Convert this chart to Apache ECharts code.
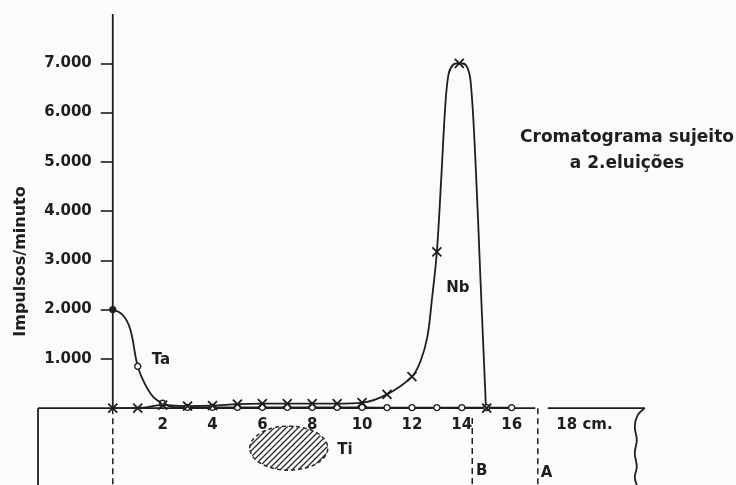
<!DOCTYPE html>
<html><head><meta charset="utf-8">
<script src="https://cdn.jsdelivr.net/npm/echarts@6/dist/echarts.min.js"></script>
<style>html,body{margin:0;padding:0;background:#fbfbf9}#c{width:736px;height:485px}</style>
</head><body><div id="c"></div>
<script>
// ---- data ----
const xTickValues = [2, 4, 6, 8, 10, 12, 14, 16, 18];
const yTickValues = [1000, 2000, 3000, 4000, 5000, 6000, 7000];
const titleLines = ['Cromatograma sujeito', 'a 2.eluições'];
const yAxisName = 'Impulsos/minuto';

// Nb (crosses)
const nbMarkX = [0, 1, 2, 3, 4, 5, 6, 7, 8, 9, 10, 11, 12, 13, 13.9, 15];
const nbMarkY = [0, 0, 60, 40, 50, 80, 90, 90, 90, 90, 110, 280, 640, 3170, 7000, 0];
const nbCurveX = [0, 1, 2, 3, 4, 5, 6, 7, 8, 9, 10, 11, 12, 12.35, 12.62, 12.8, 13, 13.18, 13.34, 13.47, 13.65, 13.9, 14.17, 14.35, 14.55, 14.75, 14.97];
const nbCurveY = [0, 0, 60, 40, 50, 80, 90, 90, 90, 90, 110, 280, 640, 960, 1450, 2200, 3170, 4700, 6150, 6780, 6970, 7000, 6960, 6650, 5000, 2600, 0];

// Ta (circles)
const taMarkX = [0, 1, 2, 3, 4, 5, 6, 7, 8, 9, 10, 11, 12, 13, 14, 15, 16];
const taMarkY = [2000, 850, 100, 15, 15, 15, 15, 15, 15, 15, 15, 10, 10, 10, 10, 10, 10];
const taCurveX = [0, 0.4, 0.7, 1, 1.3, 1.62, 2, 2.55, 3, 4, 5, 6, 7, 8, 9, 10, 11, 12, 13, 14, 15, 16];
const taCurveY = [2000, 1890, 1600, 850, 480, 230, 100, 15, 15, 15, 15, 15, 15, 15, 15, 15, 10, 10, 10, 10, 10, 10];

// paper strip (cm along x, counts-equivalent below zero)
const xMin = -3, xMax = 25, yMin = -1560, yMax = 8000;
const stripLeft = -3, stripBottom = -1560;
const stripBreak = [16.95, 17.45], stripRight = 21.34;
const lineB = 14.42, lineBTop = -200, lineA = 17.05;
const edgeX = [21.34, 21.06, 20.94, 21.02, 20.94, 21.02, 20.94, 21.02];
const edgeY = [0, -138, -381, -645, -909, -1193, -1396, -1560];
const tiSpot = [7.06, -812];

// annotations
const annoText = ['Ta', 'Nb', 'Ti', 'B', 'A'];
const annoX = [1.93, 13.84, 9.31, 14.8, 17.4];
const annoY = [981, 2440, -850, -1274, -1315];

// ---- chart ----
const ink = '#1e1e1e', bg = '#fbfbf9';
const font = 'DejaVu Sans';
const W = 736, H = 485;
const grid = { left: 38, right: 0, top: 14, bottom: 0 };
const gw = W - grid.left - grid.right, gh = H - grid.top - grid.bottom;
// shift axes so they sit on the data zero lines
const yAxisOffset = -((0 - xMin) / (xMax - xMin)) * gw;
const xAxisOffset = -((0 - yMin) / (yMax - yMin)) * gh;
const zip = (xs, ys) => xs.map((x, i) => [x, ys[i]]);

const pat = document.createElement('canvas');
pat.width = 6; pat.height = 6;
const pc = pat.getContext('2d');
pc.fillStyle = bg; pc.fillRect(0, 0, 6, 6);
pc.strokeStyle = '#2a2a2a'; pc.lineWidth = 1.3;
pc.beginPath();
pc.moveTo(0, 6); pc.lineTo(6, 0);
pc.moveTo(-3, 3); pc.lineTo(3, -3);
pc.moveTo(3, 9); pc.lineTo(9, 3);
pc.stroke();

const LW = 1.8;
const plain = (data, extra) => Object.assign({
  type: 'line', data, showSymbol: false, symbol: 'none', silent: true,
  lineStyle: { color: ink, width: LW }, z: 2
}, extra || {});
const dashed = { color: ink, width: 1.5, type: [6, 4] };

const chart = echarts.init(document.getElementById('c'), null, { renderer: 'canvas' });
chart.setOption({
  backgroundColor: bg,
  animation: false,
  textStyle: { fontFamily: font, color: ink },
  title: {
    text: titleLines.join('\n'),
    left: 622, top: 120, textAlign: 'center',
    textStyle: { fontFamily: font, fontSize: 17, fontWeight: 'bold', color: ink, lineHeight: 26 }
  },
  grid: Object.assign({ outerBoundsMode: 'none' }, grid),
  xAxis: {
    type: 'value', min: xMin, max: xMax, offset: xAxisOffset,
    axisLine: { show: false, onZero: false },
    axisTick: { show: false },
    splitLine: { show: false },
    axisLabel: {
      customValues: xTickValues, margin: 9,
      fontFamily: font, fontSize: 15, fontWeight: 'bold', color: ink,
      formatter: v => v === 18 ? '{cm|18 cm.}' : String(v),
      rich: { cm: { fontFamily: font, fontSize: 15, fontWeight: 'bold', color: ink, padding: [0, 0, 0, 46] } }
    }
  },
  yAxis: {
    type: 'value', min: yMin, max: yMax, offset: yAxisOffset,
    axisLine: { show: false, onZero: false },
    axisTick: { show: true, customValues: yTickValues, length: 12, lineStyle: { color: ink, width: 1.6 } },
    splitLine: { show: false },
    axisLabel: {
      customValues: yTickValues, margin: 21,
      fontFamily: font, fontSize: 15, fontWeight: 'bold', color: ink,
      formatter: v => (v / 1000) + '.000'
    },
    name: yAxisName, nameLocation: 'middle', nameGap: 84, nameRotate: 90,
    nameTextStyle: { fontFamily: font, fontSize: 16, fontWeight: 'bold', color: ink, padding: [0, 24, 0, 0] }
  },
  series: [
    plain([[0, 0], [0, yMax]]),
    plain([[0, 0], [0, stripBottom]], { lineStyle: dashed }),
    plain([[stripLeft, 0], [stripBreak[0], 0]]),
    plain([[stripLeft, 0], [stripLeft, stripBottom]]),
    plain([[stripBreak[1], 0], [stripRight, 0]]),
    plain(zip(edgeX, edgeY), { smooth: 0.4 }),
    plain([[lineB, lineBTop], [lineB, stripBottom]], { lineStyle: dashed }),
    plain([[lineA, 0], [lineA, stripBottom]], { lineStyle: dashed }),
    {
      type: 'custom', silent: true, z: 1, data: [tiSpot],
      renderItem: (params, api) => {
        const c = api.coord([api.value(0), api.value(1)]);
        return {
          type: 'ellipse',
          shape: { cx: c[0], cy: c[1], rx: 39, ry: 22 },
          style: { fill: { image: pat, repeat: 'repeat' }, stroke: '#2a2a2a', lineWidth: 1.5, lineDash: [4, 3] }
        };
      }
    },
    plain(zip(taCurveX, taCurveY), { smooth: 0.4, z: 3 }),
    plain(zip(nbCurveX, nbCurveY), { smooth: 0.35, z: 3 }),
    {
      type: 'scatter', data: zip(taMarkX, taMarkY), symbol: 'circle', symbolSize: 6, silent: true, z: 5,
      itemStyle: { color: p => p.dataIndex === 0 ? ink : bg, borderColor: ink, borderWidth: 1.4, opacity: 1 }
    },
    {
      type: 'scatter', data: zip(nbMarkX, nbMarkY), symbol: 'path://M0,0L10,10M0,10L10,0', symbolSize: 9, silent: true, z: 6,
      itemStyle: { color: 'none', borderColor: ink, borderWidth: 1.8, opacity: 1 }
    },
    {
      type: 'custom', silent: true, z: 7,
      data: annoText.map((t, i) => [annoX[i], annoY[i], i]),
      renderItem: (params, api) => {
        const c = api.coord([api.value(0), api.value(1)]);
        return {
          type: 'text', x: c[0], y: c[1],
          style: { text: annoText[api.value(2)], fill: ink, font: 'bold 15px "DejaVu Sans"', align: 'center', verticalAlign: 'middle' }
        };
      }
    }
  ]
});
</script></body></html>
